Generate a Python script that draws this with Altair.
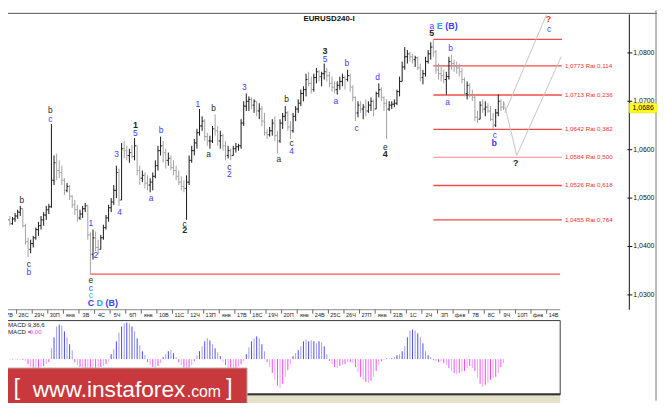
import altair as alt
import pandas as pd

# ---------------- data ----------------
FIRST_OPEN = 1.0452
HIGH = [
 1.0465,1.0455,1.0459,1.0463,1.0461,1.0469,1.0476,1.0484,1.0478,1.0447,
 1.0418,1.0414,1.0422,1.0439,1.0451,1.0463,1.0471,1.0484,1.0488,1.0653,
 1.0588,1.0592,1.0578,1.0567,1.0541,1.0531,1.0527,1.0506,1.0496,1.0486,
 1.0476,1.0484,1.0490,1.0486,1.0429,1.0435,1.0431,1.0414,1.0424,1.0445,
 1.0465,1.0486,1.0500,1.0527,1.0567,1.0561,1.0614,1.0618,1.0608,1.0602,
 1.0610,1.0624,1.0608,1.0567,1.0557,1.0553,1.0547,1.0541,1.0553,1.0578,
 1.0608,1.0627,1.0618,1.0602,1.0594,1.0588,1.0578,1.0567,1.0557,1.0545,
 1.0537,1.0547,1.0588,1.0608,1.0622,1.0643,1.0684,1.0669,1.0663,1.0635,
 1.0629,1.0649,1.0673,1.0649,1.0639,1.0633,1.0618,1.0608,1.0602,1.0608,
 1.0614,1.0612,1.0663,1.0700,1.0716,1.0710,1.0708,1.0704,1.0700,1.0696,
 1.0690,1.0676,1.0643,1.0647,1.0663,1.0669,1.0639,1.0663,1.0676,1.0690,
 1.0680,1.0659,1.0676,1.0690,1.0704,1.0724,1.0731,1.0757,1.0761,1.0751,
 1.0757,1.0769,1.0765,1.0761,1.0778,1.0769,1.0761,1.0751,1.0741,1.0741,
 1.0751,1.0757,1.0753,1.0765,1.0757,1.0733,1.0710,1.0700,1.0700,1.0694,
 1.0704,1.0700,1.0708,1.0704,1.0720,1.0737,1.0729,1.0710,1.0704,1.0700,
 1.0700,1.0704,1.0724,1.0751,1.0782,1.0812,1.0806,1.0802,1.0798,1.0794,
 1.0792,1.0778,1.0765,1.0792,1.0806,1.0822,1.0828,1.0806,1.0778,1.0771,
 1.0765,1.0761,1.0792,1.0796,1.0786,1.0782,1.0778,1.0769,1.0749,1.0741,
 1.0737,1.0724,1.0712,1.0680,1.0700,1.0704,1.0700,1.0696,1.0690,1.0676,
 1.0684,1.0714,1.0704,1.0700,
]
LOW = [
 1.0435,1.0437,1.0439,1.0443,1.0445,1.0451,1.0457,1.0463,1.0439,1.0404,
 1.0378,1.0386,1.0398,1.0414,1.0422,1.0435,1.0443,1.0455,1.0467,1.0480,
 1.0527,1.0537,1.0541,1.0527,1.0506,1.0512,1.0496,1.0480,1.0465,1.0451,
 1.0455,1.0459,1.0471,1.0414,1.0343,1.0373,1.0390,1.0384,1.0394,1.0414,
 1.0435,1.0451,1.0471,1.0486,1.0500,1.0484,1.0496,1.0582,1.0578,1.0573,
 1.0582,1.0578,1.0547,1.0527,1.0533,1.0520,1.0516,1.0512,1.0516,1.0541,
 1.0557,1.0588,1.0573,1.0561,1.0567,1.0557,1.0547,1.0537,1.0527,1.0516,
 1.0512,1.0455,1.0527,1.0573,1.0588,1.0602,1.0629,1.0639,1.0618,1.0608,
 1.0602,1.0614,1.0629,1.0608,1.0602,1.0598,1.0578,1.0582,1.0578,1.0588,
 1.0594,1.0598,1.0602,1.0649,1.0680,1.0680,1.0684,1.0676,1.0669,1.0663,
 1.0649,1.0629,1.0622,1.0627,1.0629,1.0618,1.0592,1.0614,1.0643,1.0659,
 1.0639,1.0622,1.0635,1.0659,1.0676,1.0690,1.0700,1.0710,1.0731,1.0716,
 1.0720,1.0737,1.0741,1.0731,1.0745,1.0741,1.0729,1.0720,1.0716,1.0714,
 1.0724,1.0731,1.0724,1.0741,1.0720,1.0700,1.0659,1.0667,1.0676,1.0663,
 1.0669,1.0676,1.0680,1.0669,1.0684,1.0708,1.0700,1.0680,1.0622,1.0680,
 1.0684,1.0688,1.0692,1.0710,1.0741,1.0765,1.0778,1.0782,1.0778,1.0771,
 1.0765,1.0741,1.0735,1.0751,1.0778,1.0786,1.0792,1.0757,1.0745,1.0741,
 1.0737,1.0714,1.0745,1.0765,1.0761,1.0757,1.0751,1.0737,1.0710,1.0704,
 1.0708,1.0700,1.0659,1.0655,1.0663,1.0676,1.0669,1.0676,1.0659,1.0643,
 1.0647,1.0669,1.0680,1.0682,
]
CLOSE = [
 1.0445,1.0443,1.0455,1.0447,1.0457,1.0463,1.0471,1.0478,1.0443,1.0410,
 1.0394,1.0406,1.0418,1.0435,1.0443,1.0455,1.0465,1.0476,1.0482,1.0537,
 1.0573,1.0557,1.0553,1.0537,1.0516,1.0524,1.0504,1.0486,1.0476,1.0459,
 1.0467,1.0478,1.0484,1.0424,1.0384,1.0418,1.0398,1.0394,1.0418,1.0439,
 1.0459,1.0480,1.0492,1.0516,1.0553,1.0496,1.0602,1.0598,1.0588,1.0594,
 1.0586,1.0608,1.0557,1.0541,1.0547,1.0531,1.0527,1.0533,1.0545,1.0567,
 1.0598,1.0608,1.0594,1.0578,1.0582,1.0563,1.0557,1.0545,1.0533,1.0524,
 1.0520,1.0533,1.0578,1.0598,1.0614,1.0635,1.0649,1.0659,1.0627,1.0618,
 1.0618,1.0643,1.0639,1.0618,1.0629,1.0608,1.0588,1.0598,1.0588,1.0602,
 1.0606,1.0608,1.0655,1.0690,1.0700,1.0704,1.0692,1.0700,1.0680,1.0684,
 1.0659,1.0635,1.0631,1.0639,1.0655,1.0629,1.0618,1.0655,1.0669,1.0676,
 1.0647,1.0639,1.0669,1.0684,1.0696,1.0716,1.0724,1.0745,1.0737,1.0724,
 1.0749,1.0761,1.0751,1.0757,1.0761,1.0753,1.0737,1.0729,1.0724,1.0733,
 1.0741,1.0749,1.0745,1.0753,1.0729,1.0708,1.0676,1.0692,1.0684,1.0688,
 1.0680,1.0692,1.0700,1.0684,1.0716,1.0724,1.0708,1.0696,1.0684,1.0692,
 1.0694,1.0696,1.0720,1.0741,1.0771,1.0792,1.0798,1.0792,1.0786,1.0790,
 1.0769,1.0749,1.0757,1.0782,1.0798,1.0812,1.0802,1.0765,1.0757,1.0753,
 1.0745,1.0751,1.0782,1.0778,1.0773,1.0769,1.0761,1.0745,1.0716,1.0733,
 1.0712,1.0708,1.0667,1.0663,1.0692,1.0684,1.0688,1.0680,1.0663,1.0651,
 1.0676,1.0700,1.0688,1.0686,
]
# MACD(9,36,6) histogram, in units of 0.0001
MACD_HIST = [
 -0.5,-0.5,-0.5,-0.5,-0.5,-0.5,-0.5,-0.5,-1,
 -2,-5,-8,-9,-10,-9,-8,-7,-5,-3,
 11,22,33,35,34,28,22,15,9,
 -3,-6,-8,-10,-11,-11,-11,-10,-10,-9,-8,-7,-5,-2,
 5,10,18,27,33,36,37,36,33,28,21,14,8,4,
 -3,-6,-8,-9,-7,-4,
 2,5,8,9,6,2,
 -3,-6,-9,-10,-9,-6,-2,
 4,8,13,18,21,19,15,11,7,3,
 -3,-6,-9,-11,-11,-10,-8,-5,-2,
 5,12,18,21,23,21,15,8,
 -3,-8,-14,-21,-27,-29,-25,-18,-11,-5,
 3,6,9,13,18,20,18,19,18,16,18,17,13,5,
 -2,-5,-8,-9,-7,-6,-5,-3,-3,-4,-8,-13,-18,-21,-23,-24,-22,-18,-12,-6,-2,
 -1,0.5,0.5,1,
 2,4,5,8,13,22,29,30,29,26,22,16,8,4,2,
 -1,-2,-3,-2,-4,-6,-9,-12,-14,-15,-14,-13,-12,-9,-7,-9,-12,-19,-25,-28,
 -26,-24,-21,-19,-18,-14,-8,-4,
]
DAY_LABELS = ["27В","28С","29Ч","30П","янв","3В","4С","5Ч","6П","янв",
              "10В","11С","12Ч","13П","янв","17В","18С","19Ч","20П","янв",
              "24В","25С","26Ч","27П","янв","31В","1С","2Ч","3П","фев",
              "7В","8С","9Ч","10П","фев","14В"]
BARS_PER_DAY = 6
PRICE_TICKS = [1.03, 1.04, 1.05, 1.06, 1.07, 1.08]

FIB_PRICE = [1.0828, 1.0773, 1.0713, 1.0642, 1.0584, 1.0526, 1.0455]
FIB_RATIO = [0.0, 0.114, 0.236, 0.382, 0.5, 0.618, 0.764]
FIB_FROM, FIB_TO = 166, 215.5
BASE_PRICE, BASE_FROM, BASE_TO = 1.0343, 34, 214.8

PROJ_GROUP = ["a", "a", "b", "b", "b"]
PROJ_BAR = [193.5, 209.5, 193.2, 198.1, 215.2]
PROJ_PRICE = [1.0676, 1.0878, 1.0698, 1.0588, 1.0792]

LBL_TEXT = ["b","c","b","c","b","1","2","e","c","c","C","D","(B)","3","4","1","5","a","b","c",
            "2","1","a","b","c","2","3","a","b","c","4","3","5","a","b","c","d","e","4","a",
            "E","(B)","5","b","a","c","b","?","c","?"]
LBL_BAR = [18.6,18.6,7.6,10.3,10.3,34.2,36.1,34.2,34.2,34.2,34.2,37.6,42.2,44.1,45.2,51.3,51.3,57.4,61.2,70.3,
           70.3,75.3,79.5,81.4,87.5,87.5,93.2,106.5,109.5,111.4,111.4,124.3,124.3,128.5,132.7,136.5,144.5,147.5,147.5,165.4,
           168.4,173.0,165.4,172.6,171.5,189.7,189.4,210.3,210.6,197.7]
LBL_PRICE = [1.0682,1.0663,1.0496,1.0363,1.0347,1.0449,1.0382,1.0331,1.0314,1.0300,1.0284,1.0284,1.0284,1.0590,1.0471,1.0651,1.0635,1.0500,1.0641,1.0447,
             1.0433,1.0694,1.0590,1.0686,1.0565,1.0549,1.0729,1.0580,1.0704,1.0614,1.0598,1.0804,1.0788,1.0700,1.0780,1.0645,1.0751,1.0606,1.0592,1.0855,
             1.0855,1.0855,1.0841,1.0810,1.0698,1.0631,1.0614,1.0869,1.0849,1.0573]
LBL_COLOR = ["k","b","k","k","b","b","b","k","b","c","b","c","b","b","b","k","b","b","b","k",
             "k","b","k","k","k","b","b","k","k","k","b","k","b","b","b","b","b","k","k","b",
             "c","b","k","b","b","b","b","r","b","k"]
LBL_BOLD = [0,0,0,0,0,0,0,0,0,0,1,1,1,0,0,1,0,0,0,0,
            1,0,0,0,0,0,0,0,0,0,0,1,0,0,0,0,0,0,1,0,
            1,1,1,0,0,0,1,1,0,1]

n = len(CLOSE)
assert len(HIGH) == n and len(LOW) == n and len(MACD_HIST) == n
assert len(LBL_TEXT) == len(LBL_BAR) == len(LBL_PRICE) == len(LBL_COLOR) == len(LBL_BOLD)

# ---------------- layout ----------------
W, H, PAD_R = 629, 395, 28
XS = alt.Scale(domain=[2.2814, 241.4411], nice=False, zero=False)
YS = alt.Scale(domain=[1.0081633, 1.0887755], nice=False, zero=False)
MS = alt.Scale(domain=[-42, 353], nice=False, zero=False)
FONT = "Liberation Sans"
PAL = {"k": "#262626", "b": "#3c3cff", "c": "#2ea0e6", "r": "#ee2f2f"}
NOCOL = alt.Color("col:N", scale=None)

ONE = pd.DataFrame({"k": [0]})


def rule(x1, x2, y1, y2, color, w=1.0):
    return alt.Chart(ONE).mark_rule(color=color, strokeWidth=w).encode(
        x=alt.value(x1), x2=alt.value(x2), y=alt.value(y1), y2=alt.value(y2))


def box(x1, x2, y1, y2, **kw):
    return alt.Chart(ONE).mark_rect(**kw).encode(
        x=alt.value(x1), x2=alt.value(x2), y=alt.value(y1), y2=alt.value(y2))


def label(txt, x, y, **kw):
    return alt.Chart(ONE).mark_text(text=txt, **kw).encode(x=alt.value(x), y=alt.value(y))


# ---------------- price panel ----------------
OPEN = [FIRST_OPEN] + CLOSE[:-1]
bars = pd.DataFrame({"i": list(range(n)), "open": OPEN, "high": HIGH, "low": LOW, "close": CLOSE})
bars["col"] = ["#161616" if c >= o else "#a2a2a2" for o, c in zip(OPEN, CLOSE)]
bars["xl"] = bars["i"] - 0.5
bars["xr"] = bars["i"] + 0.5

hl = alt.Chart(bars).mark_rule(strokeWidth=1).encode(
    x=alt.X("i:Q", scale=XS, axis=None),
    y=alt.Y("low:Q", scale=YS, axis=None), y2="high:Q", color=NOCOL)
op = alt.Chart(bars).mark_rule(strokeWidth=1).encode(
    x=alt.X("xl:Q", scale=XS, axis=None), x2="i:Q",
    y=alt.Y("open:Q", scale=YS, axis=None), color=NOCOL)
cl = alt.Chart(bars).mark_rule(strokeWidth=1).encode(
    x=alt.X("i:Q", scale=XS, axis=None), x2="xr:Q",
    y=alt.Y("close:Q", scale=YS, axis=None), color=NOCOL)

ticks = pd.DataFrame({"p": PRICE_TICKS})
ticks["txt"] = [f"{p:.4f}".replace(".", ",") for p in PRICE_TICKS]
tick_marks = alt.Chart(ticks).mark_rule(color="#111", strokeWidth=1).encode(
    x=alt.value(W - 2), x2=alt.value(W + 3), y=alt.Y("p:Q", scale=YS, axis=None))
tick_text = alt.Chart(ticks).mark_text(font=FONT, fontSize=7, color="#111", align="left", baseline="middle").encode(
    x=alt.value(W + 4), y=alt.Y("p:Q", scale=YS, axis=None), text="txt:N")

fib = pd.DataFrame({"p": FIB_PRICE, "r": FIB_RATIO})
fib["x1"] = FIB_FROM
fib["x2"] = FIB_TO
fib["col"] = ["#f5a3a3" if r == 0.5 else "#f24a4a" for r in FIB_RATIO]
fib["txt"] = [f"{p:.4f}".replace(".", ",") + " Rat " + f"{r:.3f}".replace(".", ",") for p, r in zip(FIB_PRICE, FIB_RATIO)]
fib_lines = alt.Chart(fib).mark_rule(strokeWidth=1.3).encode(
    x=alt.X("x1:Q", scale=XS, axis=None), x2="x2:Q",
    y=alt.Y("p:Q", scale=YS, axis=None), color=NOCOL)
fib_text = alt.Chart(fib[fib["r"] > 0]).mark_text(
    align="left", baseline="middle", font=FONT, fontSize=6.3, color="#f03030", dx=3).encode(
    x=alt.X("x2:Q", scale=XS, axis=None), y=alt.Y("p:Q", scale=YS, axis=None), text="txt:N")

base = pd.DataFrame({"p": [BASE_PRICE], "x1": [BASE_FROM], "x2": [BASE_TO]})
base_line = alt.Chart(base).mark_rule(color="#ef5555", strokeWidth=1.2).encode(
    x=alt.X("x1:Q", scale=XS, axis=None), x2="x2:Q", y=alt.Y("p:Q", scale=YS, axis=None))

proj = pd.DataFrame({"g": PROJ_GROUP, "bar": PROJ_BAR, "p": PROJ_PRICE, "o": list(range(len(PROJ_BAR)))})
proj_lines = alt.Chart(proj).mark_line(color="#c4c4c4", strokeWidth=1).encode(
    x=alt.X("bar:Q", scale=XS, axis=None), y=alt.Y("p:Q", scale=YS, axis=None),
    detail="g:N", order="o:Q")

lbl = pd.DataFrame({"t": LBL_TEXT, "bar": LBL_BAR, "p": LBL_PRICE,
                    "col": [PAL[c] for c in LBL_COLOR], "bold": LBL_BOLD})
lbl_norm = alt.Chart(lbl[lbl["bold"] == 0]).mark_text(
    font=FONT, fontSize=8.5, baseline="middle", align="center").encode(
    x=alt.X("bar:Q", scale=XS, axis=None), y=alt.Y("p:Q", scale=YS, axis=None),
    text="t:N", color=NOCOL)
lbl_bold = alt.Chart(lbl[lbl["bold"] == 1]).mark_text(
    font=FONT, fontSize=9, fontWeight="bold", baseline="middle", align="center").encode(
    x=alt.X("bar:Q", scale=XS, axis=None), y=alt.Y("p:Q", scale=YS, axis=None),
    text="t:N", color=NOCOL)

last = pd.DataFrame({"p": [CLOSE[-1]], "top": [CLOSE[-1] + 0.0010], "bot": [CLOSE[-1] - 0.0010],
                     "txt": [f"{CLOSE[-1]:.4f}".replace(".", ",")]})
last_box = alt.Chart(last).mark_rect(fill="#ffff1a", stroke="#d8d800", strokeWidth=0.5).encode(
    x=alt.value(W), x2=alt.value(W + PAD_R),
    y=alt.Y("top:Q", scale=YS, axis=None), y2="bot:Q")
last_txt = alt.Chart(last).mark_text(font=FONT, fontSize=7, color="#000", align="center", baseline="middle").encode(
    x=alt.value(W + 14), y=alt.Y("p:Q", scale=YS, axis=None), text="txt:N")

price_group = alt.layer(
    rule(0, W + PAD_R, 3, 3, "#555"),
    rule(W + PAD_R - 1, W + PAD_R - 1, 0, H, "#777"),
    rule(W, W, 4, 303, "#111"),
    fib_lines, base_line, proj_lines,
    hl, op, cl,
    tick_marks, tick_text,
    fib_text, lbl_norm, lbl_bold,
    last_box, last_txt,
    label("EURUSD240-I", 325, 9, font=FONT, fontSize=8, fontWeight="bold", color="#111",
          align="center", baseline="middle"),
)

# ---------------- date strip + MACD panel ----------------
days = pd.DataFrame({"t": DAY_LABELS, "k": list(range(len(DAY_LABELS)))})
days["tick"] = days["k"] * BARS_PER_DAY - 0.4
days["mid"] = days["k"] * BARS_PER_DAY + 2.28
day_ticks = alt.Chart(days).mark_rule(color="#666", strokeWidth=1).encode(
    x=alt.X("tick:Q", scale=XS, axis=None), y=alt.value(303), y2=alt.value(307))
day_text = alt.Chart(days).mark_text(font=FONT, fontSize=5.6, color="#222", baseline="middle").encode(
    x=alt.X("mid:Q", scale=XS, axis=None), y=alt.value(308.5), text="t:N")

macd = pd.DataFrame({"i": list(range(n)), "v": MACD_HIST, "z": [0] * n})
MCOL = {("pos", 0): "#4a4af2", ("pos", 1): "#9c9cf6", ("neg", 0): "#f04af0", ("neg", 1): "#f6a0f6"}
macd["col"] = [MCOL[("pos" if v > 0 else "neg", i % 2)] for i, v in zip(macd["i"], macd["v"])]
macd_bars = alt.Chart(macd).mark_rule(strokeWidth=1).encode(
    x=alt.X("i:Q", scale=XS, axis=None),
    y=alt.Y("v:Q", scale=MS, axis=None), y2="z:Q", color=NOCOL)

WFONT = "Liberation Sans"
macd_group = alt.layer(
    rule(0, 559, 303, 303, "#888"),
    day_ticks, day_text,
    box(-6, 559, 389, 398, fill="#e4e0c9"),
    box(-6, 559, 314, 389, fill="#ffffff", stroke="#3a3a3a", strokeWidth=1),
    rule(-6, 559, 388.5, 388.5, "#333", 2),
    macd_bars,
    label("MACD 9,36,6", 0, 318, font=FONT, fontSize=6.2, color="#222", align="left", baseline="middle"),
    label("MACD =", 0, 326, font=FONT, fontSize=6.2, color="#222", align="left", baseline="middle"),
    label("0,00", 22, 326, font=FONT, fontSize=6.2, color="#ff3cff", align="left", baseline="middle"),
    box(-6, 242, 362, 407, fill="#c8383c", stroke="#b4b4b4", strokeWidth=1),
    label("[", 9, 389, font=WFONT, fontSize=24, fontWeight=300, color="#ffffff", align="center", baseline="alphabetic"),
    label("www.instaforex", 25, 391, font=WFONT, fontSize=23, color="#ffffff", align="left", baseline="alphabetic"),
    label(".com", 181, 391, font=WFONT, fontSize=16, color="#ffffff", align="left", baseline="alphabetic"),
    label("]", 224, 389, font=WFONT, fontSize=24, fontWeight=300, color="#ffffff", align="center", baseline="alphabetic"),
)

chart = alt.layer(price_group, macd_group).resolve_scale(y="independent").properties(
    width=W, height=H,
    autosize=alt.AutoSizeParams(type="none"),
    padding={"left": 0, "top": 0, "right": PAD_R, "bottom": 0},
    background="white",
).configure_view(stroke=None)

chart.save("out.html", embed_options={"renderer": "svg", "actions": False})
